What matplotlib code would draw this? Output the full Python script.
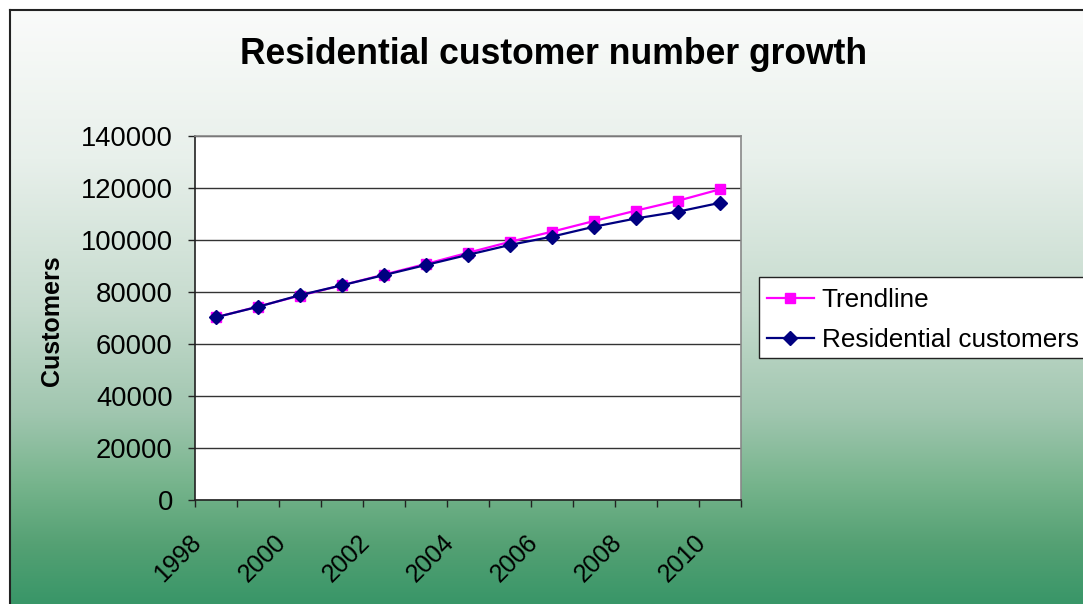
import matplotlib.pyplot as plt
import numpy as np
from matplotlib.colors import LinearSegmentedColormap
from matplotlib.lines import Line2D
from matplotlib.patches import Rectangle
from matplotlib.transforms import ScaledTranslation

plt.rcParams['font.family'] = ['Liberation Sans', 'DejaVu Sans']

years = list(range(1998, 2011))
trendline = [70300, 74400, 78600, 82600, 86700, 90800, 95100, 99300,
             103200, 107300, 111300, 115100, 119500]
residential = [70300, 74300, 78800, 82600, 86500, 90400, 94300, 98100,
               101300, 105100, 108300, 110900, 114300]
y_ticks = [0, 20000, 40000, 60000, 80000, 100000, 120000, 140000]

W, H = 1083, 604
fig = plt.figure(figsize=(W / 100, H / 100), dpi=100)
fig.patch.set_facecolor('white')

# chart area background: white at the top fading to green at the bottom
stops = [(0.0, (250, 251, 250)), (0.25, (232, 240, 235)), (0.5, (198, 219, 206)),
         (0.68, (160, 198, 175)), (0.8, (118, 180, 140)), (0.9, (85, 161, 116)),
         (1.0, (57, 150, 104))]
cmap = LinearSegmentedColormap.from_list(
    'bg', [(p, tuple(c / 255 for c in rgb)) for p, rgb in stops])
bg = fig.add_axes([10 / W, 0, 1 - 10 / W, 1 - 10 / H])
bg.imshow(np.linspace(0, 1, 256).reshape(-1, 1), aspect='auto', cmap=cmap,
          extent=[0, 1, 0, 1], origin='upper')
bg.axis('off')
fig.add_artist(Line2D([10 / W, 10 / W], [0, 1 - 10 / H], color='#222222', lw=1.5))
fig.add_artist(Line2D([10 / W, 1], [1 - 10 / H, 1 - 10 / H], color='#222222', lw=1.5))

ax = fig.add_axes([195 / W, 1 - 500 / H, (741 - 195) / W, (500 - 136) / H])
ax.set_facecolor('white')
x = np.arange(len(years))

ax.plot(x, trendline, color='#ff00ff', lw=1.6, marker='s', markersize=7,
        label='Trendline', zorder=3)
ax.plot(x, residential, color='#000080', lw=1.6, marker='D', markersize=7.5,
        label='Residential customers', zorder=4)

ax.set_xlim(-0.5, len(years) - 0.5)
ax.set_ylim(0, 140000)
ax.set_yticks(y_ticks)
ax.set_yticklabels([str(v) for v in y_ticks], fontsize=19.7)
ax.yaxis.grid(True, color='#333333', lw=1)
ax.set_axisbelow(True)

# tick marks on category boundaries, labels on every other year
ax.set_xticks(np.arange(-0.5, len(years)), minor=True)
ax.set_xticks(x[::2])
ax.set_xticklabels([str(y) for y in years[::2]], fontsize=18, rotation=45,
                   ha='right', va='center', rotation_mode='anchor')
ax.tick_params(axis='x', which='major', length=0, pad=28)
ax.tick_params(axis='x', which='minor', length=5, width=1, color='#222222')
ax.tick_params(axis='y', length=5, width=1, color='#222222', pad=11)
shift = ScaledTranslation(-18 / 100, 0, fig.dpi_scale_trans)
for lbl in ax.get_xticklabels():
    lbl.set_transform(lbl.get_transform() + shift)

for side in ['left', 'bottom']:
    ax.spines[side].set_color('#222222')
    ax.spines[side].set_linewidth(1.2)
for side in ['top', 'right']:
    ax.spines[side].set_color('#888888')
    ax.spines[side].set_linewidth(1.2)

fig.text(554 / W, 1 - 55 / H, 'Residential customer number growth',
         ha='center', va='center', fontsize=25.6, fontweight='bold')
fig.text(52 / W, 1 - 321 / H, 'Customers', ha='center', va='center',
         rotation=90, fontsize=18, fontweight='bold')

# legend box runs past the right edge of the chart
ax.add_patch(Rectangle((759 / W, 1 - 358 / H), (1100 - 759) / W, 81 / H,
                       transform=fig.transFigure, facecolor='white',
                       edgecolor='#222222', lw=1, clip_on=False, zorder=4.5))
ax.legend(loc='upper left', bbox_to_anchor=(759 / W, 1 - 280 / H),
          bbox_transform=fig.transFigure, fontsize=18.8, frameon=False,
          borderaxespad=0, handlelength=1.8, handletextpad=0.3,
          labelspacing=0.62, borderpad=0.3)

fig.savefig('out.png', dpi=100)
